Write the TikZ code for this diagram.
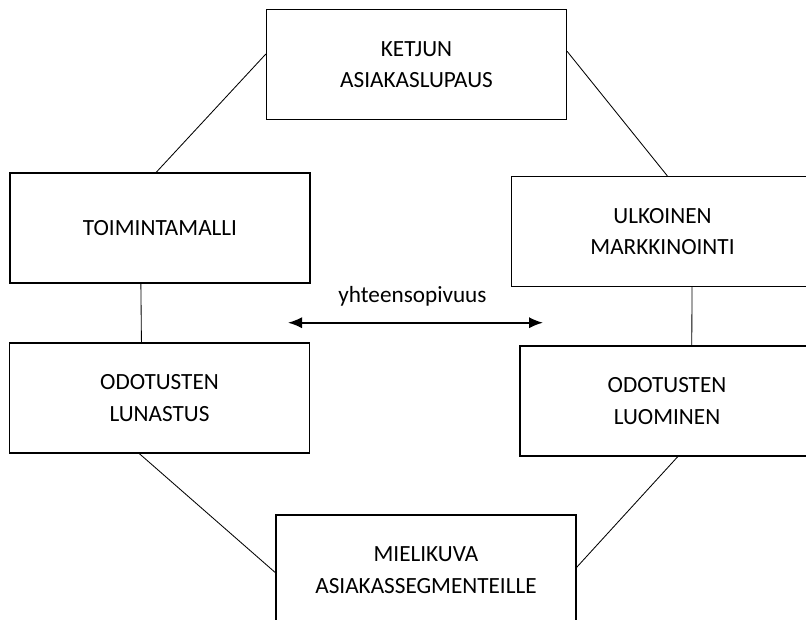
\documentclass[tikz,border=0pt]{standalone}
\usepackage{fontspec}
\setmainfont{Carlito}
\usetikzlibrary{arrows.meta}

\tikzset{
  stagebox/.style={draw, line width=0.8pt, align=center, inner sep=0pt,
    minimum width=7.5cm, minimum height=2.75cm,
    font=\fontsize{16.5}{22.5}\selectfont},
  link/.style={line width=0.6pt},
}

\begin{document}
\begin{tikzpicture}[x=0.025cm, y=-0.025cm]
    \clip (0,0) rectangle (806,619);
    \fill[white] (0,0) rectangle (806,619);

    % Top
    \node[stagebox] (ketjun) at (416.5,64.5) {KETJUN\\ASIAKASLUPAUS};

    % Left side
    \node[stagebox] (toiminta) at (160,228) {TOIMINTAMALLI};
    \node[stagebox] (lunastus) at (159.5,398) {ODOTUSTEN\\LUNASTUS};

    % Right side (cut by the page edge)
    \node[stagebox, minimum width=7.55cm] (ulkoinen) at (662.5,231.5) {ULKOINEN\\MARKKINOINTI};
    \node[stagebox, minimum width=7.35cm] (luominen) at (667,401) {ODOTUSTEN\\LUOMINEN};

    % Bottom
    \node[stagebox] (mielikuva) at (426,570) {MIELIKUVA\\ASIAKASSEGMENTEILLE};

    % Ring of links
    \draw[link] (ketjun.176) -- (toiminta.94);
    \draw[link] (ketjun.5) -- (ulkoinen.85);
    \draw[link] (toiminta.251) -- (lunastus.108);
    \draw[link] (ulkoinen.298) -- (luominen.66);
    \draw[link] (lunastus.250) -- (mielikuva.181);
    \draw[link] (luominen.281) -- (mielikuva.1);

    % Centre arrow
    \coordinate (arrL) at (288,322.7);
    \coordinate (arrR) at (543,322.7);
    \draw[line width=1.2pt, {Latex[length=3.5mm,width=2.8mm]}-{Latex[length=3.5mm,width=2.8mm]}] (arrL) -- (arrR);
    \node[font=\fontsize{16.5}{20}\selectfont] (fit) at (412.5,296) {yhteensopivuus};
  \end{tikzpicture}
\end{document}
